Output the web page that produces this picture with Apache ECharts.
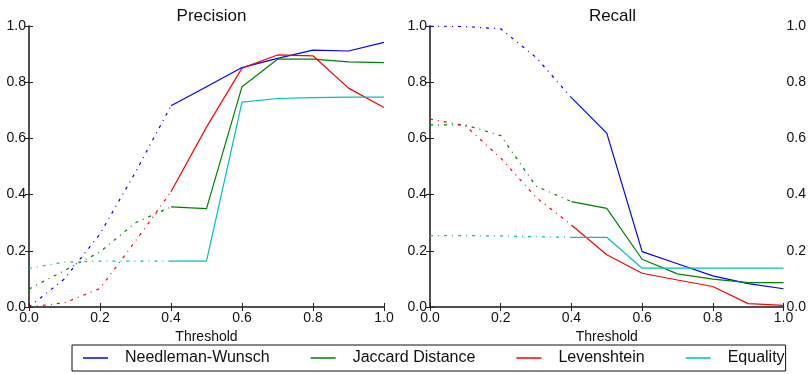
<!DOCTYPE html>
<html>
<head>
<meta charset="utf-8">
<script src="https://cdn.jsdelivr.net/npm/echarts@6/dist/echarts.min.js"></script>
<style>
html,body{margin:0;padding:0;background:#fff;}
#chart{width:809px;height:374px;}
</style>
</head>
<body>
<div id="chart"></div>
<script>
const thresholds = [0.0, 0.1, 0.2, 0.3, 0.4, 0.5, 0.6, 0.7, 0.8, 0.9, 1.0];
const methods = ['Needleman-Wunsch', 'Jaccard Distance', 'Levenshtein', 'Equality'];
const colors = ['#0000ff', '#008000', '#ff0000', '#00bfbf'];
const tickLabels = ['0.0', '0.2', '0.4', '0.6', '0.8', '1.0'];

const precisionNW  = [0.0, 0.10, 0.26, 0.48, 0.716, 0.784, 0.852, 0.885, 0.914, 0.911, 0.942];
const precisionJac = [0.064, 0.13, 0.196, 0.30, 0.356, 0.350, 0.784, 0.882, 0.882, 0.872, 0.870];
const precisionLev = [0.0, 0.015, 0.066, 0.235, 0.41, 0.64, 0.85, 0.897, 0.894, 0.779, 0.710];
const precisionEq  = [0.137, 0.16, 0.163, 0.163, 0.163, 0.163, 0.729, 0.742, 0.745, 0.747, 0.747];

const recallNW  = [1.0, 0.998, 0.99, 0.888, 0.745, 0.619, 0.197, 0.154, 0.111, 0.083, 0.065];
const recallJac = [0.648, 0.648, 0.61, 0.43, 0.375, 0.351, 0.17, 0.118, 0.099, 0.087, 0.087];
const recallLev = [0.669, 0.645, 0.53, 0.39, 0.292, 0.186, 0.12, 0.096, 0.073, 0.012, 0.006];
const recallEq  = [0.254, 0.254, 0.253, 0.25, 0.248, 0.248, 0.138, 0.138, 0.138, 0.138, 0.138];

const panels = [
  {title: 'Precision', values: [precisionNW, precisionJac, precisionLev, precisionEq]},
  {title: 'Recall', values: [recallNW, recallJac, recallLev, recallEq]}
];
const splitIndex = 4; // dash-dot up to threshold 0.4, solid after

const FONT = 'Liberation Sans, Arial, sans-serif';
const frameColor = '#444';
const fmt = v => tickLabels[Math.round(v / 0.2)] || v.toFixed(1);

const grids = [
  {left: 29, top: 26, width: 355, height: 281},
  {left: 430, top: 26, width: 355, height: 281}
];

const xAxes = [], yAxes = [], series = [], titles = [];
grids.forEach((g, gi) => {
  const axLine = {show: true, lineStyle: {color: frameColor, width: 1.5}};
  const tick = {show: true, inside: true, length: 4, lineStyle: {color: '#222', width: 1}};
  const lbl = {show: true, formatter: fmt, color: '#111', fontFamily: FONT, fontSize: 14, margin: 4};
  xAxes.push({type: 'value', gridIndex: gi, min: 0, max: 1, interval: 0.2, position: 'bottom',
    axisLine: axLine, axisTick: tick, axisLabel: lbl, splitLine: {show: false},
    name: 'Threshold', nameLocation: 'middle', nameGap: 22,
    nameTextStyle: {fontFamily: FONT, fontSize: 14, color: '#111'}});
  xAxes.push({type: 'value', gridIndex: gi, min: 0, max: 1, interval: 0.2, position: 'top',
    axisLine: axLine, axisTick: tick, axisLabel: {show: false}, splitLine: {show: false}});
  yAxes.push({type: 'value', gridIndex: gi, min: 0, max: 1, interval: 0.2, position: 'left',
    axisLine: axLine, axisTick: tick, axisLabel: Object.assign({}, lbl, {margin: 3}), splitLine: {show: false}});
  yAxes.push({type: 'value', gridIndex: gi, min: 0, max: 1, interval: 0.2, position: 'right',
    axisLine: axLine, axisTick: tick,
    axisLabel: gi === 1 ? Object.assign({}, lbl, {margin: 3}) : {show: false}, splitLine: {show: false}});
  titles.push({text: panels[gi].title, left: g.left + g.width / 2, textAlign: 'center', top: 3,
    textStyle: {fontFamily: FONT, fontSize: 17, fontWeight: 'normal', color: '#111'}});

  panels[gi].values.forEach((vals, mi) => {
    const dashed = [], solid = [];
    thresholds.forEach((t, i) => {
      if (i <= splitIndex) dashed.push([t, vals[i]]);
      if (i >= splitIndex) solid.push([t, vals[i]]);
    });
    const base = {type: 'line', name: methods[mi], xAxisIndex: gi * 2, yAxisIndex: gi * 2,
      showSymbol: false, symbol: 'none', animation: false, color: colors[mi], z: 2 + mi};
    series.push(Object.assign({}, base, {data: dashed,
      lineStyle: {color: colors[mi], width: 1.2, type: [3, 5, 1, 5]}}));
    series.push(Object.assign({}, base, {data: solid,
      lineStyle: {color: colors[mi], width: 1.2, type: 'solid'}}));
  });
});

const chart = echarts.init(document.getElementById('chart'), null, {renderer: 'canvas'});
chart.setOption({
  backgroundColor: '#fff',
  animation: false,
  title: titles,
  grid: grids,
  xAxis: xAxes,
  yAxis: yAxes,
  legend: {
    data: methods.map((m, i) => ({name: m, icon: 'rect', itemStyle: {color: colors[i]}})),
    left: 72, top: 345,
    itemWidth: 25, itemHeight: 1.5, itemGap: 41,
    padding: [5, 1, 5, 11],
    borderColor: '#111', borderWidth: 1,
    textStyle: {fontFamily: FONT, fontSize: 16, color: '#111', padding: [0, 0, 0, 12]}
  },
  series: series
});
</script>
</body>
</html>
